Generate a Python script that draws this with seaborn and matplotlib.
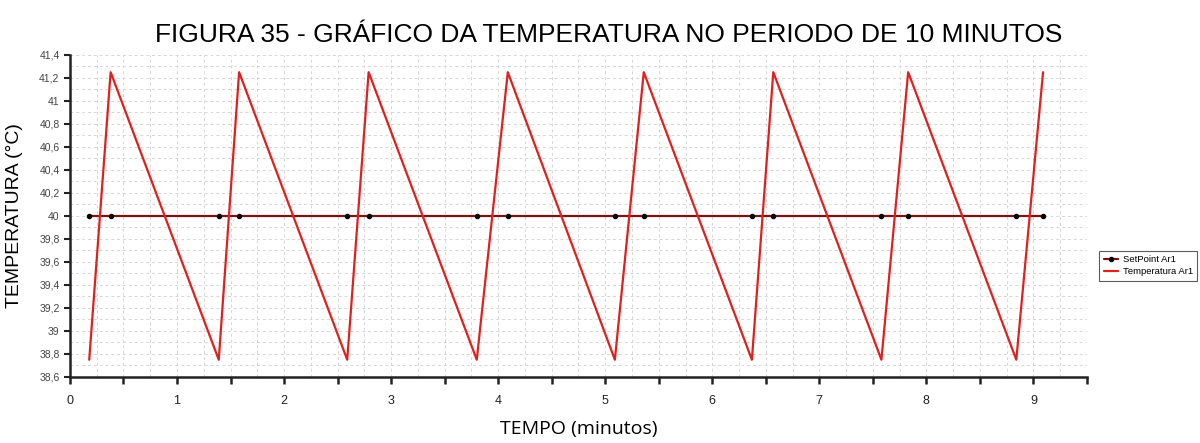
import numpy as np
import pandas as pd
import matplotlib
matplotlib.use("Agg")
import matplotlib.pyplot as plt
import seaborn as sns
from matplotlib.ticker import MultipleLocator, FuncFormatter

# Data
tempo = [0.18, 0.38, 1.39, 1.58, 2.59, 2.79, 3.80, 4.09, 5.09, 5.36,
         6.37, 6.57, 7.58, 7.83, 8.84, 9.09]
temperatura = [38.75, 41.25, 38.75, 41.25, 38.75, 41.25, 38.75, 41.25, 38.75, 41.25,
               38.75, 41.25, 38.75, 41.25, 38.75, 41.25]
setpoint = [40.0] * len(tempo)

title = "FIGURA 35 - GRÁFICO DA TEMPERATURA NO PERIODO DE 10 MINUTOS"
xlabel = "TEMPO (minutos)"
ylabel = "TEMPERATURA (°C)"
series_names = ["SetPoint Ar1", "Temperatura Ar1"]

sns.set_theme(style="white")
plt.rcParams['font.family'] = ['Liberation Sans', 'DejaVu Sans']
plt.rcParams['text.color'] = 'black'
plt.rcParams['axes.labelcolor'] = 'black'

fig = plt.figure(figsize=(12, 4.43), dpi=100)
ax = fig.add_axes([0.0583, 0.149, 0.8475, 0.727])

df_sp = pd.DataFrame({"tempo": tempo, "valor": setpoint})
df_t = pd.DataFrame({"tempo": tempo, "valor": temperatura})

sns.lineplot(data=df_sp, x="tempo", y="valor", ax=ax, color="#7a1414", lw=1.6,
             marker="o", markersize=3.2, markerfacecolor="black", markeredgecolor="black",
             label=series_names[0], zorder=3)
sns.lineplot(data=df_t, x="tempo", y="valor", ax=ax, color="#e0201e", lw=1.6,
             label=series_names[1], zorder=4)

ax.set_xlim(0, 9.5)
ax.set_ylim(38.6, 41.4)

ax.xaxis.set_major_locator(MultipleLocator(0.5))
ax.xaxis.set_minor_locator(MultipleLocator(0.25))
ax.yaxis.set_major_locator(MultipleLocator(0.2))
ax.yaxis.set_minor_locator(MultipleLocator(0.1))

def xfmt(v, pos):
    if abs(v - round(v)) < 1e-6:
        return str(int(round(v)))
    return ""

def yfmt(v, pos):
    s = f"{v:.1f}"
    if s.endswith(".0"):
        s = s[:-2]
    return s.replace(".", ",")

ax.xaxis.set_major_formatter(FuncFormatter(xfmt))
ax.yaxis.set_major_formatter(FuncFormatter(yfmt))

ax.grid(which="both", color="#d6d6d6", linestyle=(0, (3, 3)), linewidth=0.7)
ax.set_axisbelow(True)

for s in ["top", "right"]:
    ax.spines[s].set_visible(False)
for s in ["left", "bottom"]:
    ax.spines[s].set_color("#222222")
    ax.spines[s].set_linewidth(1.8)

ax.tick_params(axis="x", which="major", direction="out", length=5, width=1.8,
               color="#222222", labelsize=9, labelcolor="#222222", pad=8, bottom=True)
ax.tick_params(axis="y", which="major", direction="out", length=4, width=1.5,
               color="#222222", labelsize=7.5, labelcolor="#444444", left=True)
ax.tick_params(which="minor", length=0)

ax.set_xlabel(xlabel, fontsize=14, labelpad=9, family=['Open Sans', 'DejaVu Sans'])
ax.set_ylabel(ylabel, fontsize=14, labelpad=12, family=['Liberation Sans', 'DejaVu Sans'])

fig.text(0.507, 0.922, title, ha="center", va="center", fontsize=19)

leg = ax.legend(loc="center left", bbox_to_anchor=(1.01, 0.345), fontsize=6.8,
                frameon=True, fancybox=False, edgecolor="#333333",
                handlelength=1.5, handletextpad=0.5, borderpad=0.5,
                borderaxespad=0.2, labelspacing=0.3)
leg.get_frame().set_linewidth(0.8)

fig.savefig("out.png", dpi=100)
